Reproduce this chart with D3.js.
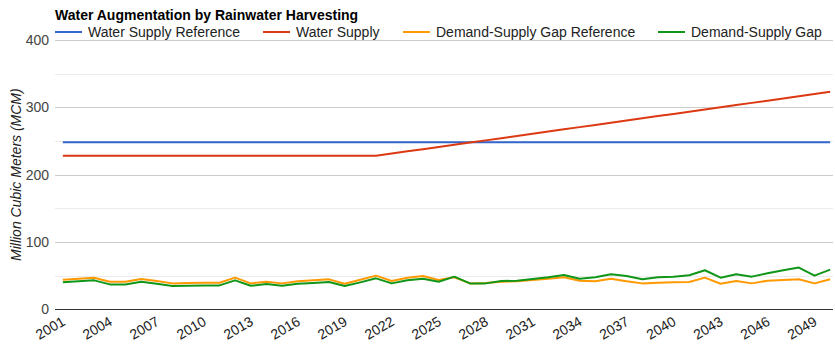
<!DOCTYPE html>
<html>
<head>
<meta charset="utf-8">
<script src="https://cdn.jsdelivr.net/npm/d3@7"></script>
<style>
  html, body { margin: 0; padding: 0; background: #fff; }
  svg { display: block; font-family: Arial, "Liberation Sans", sans-serif; }
</style>
</head>
<body>
<svg id="chart" width="835" height="355"></svg>
<script>
const years = [2001,2002,2003,2004,2005,2006,2007,2008,2009,2010,
  2011,2012,2013,2014,2015,2016,2017,2018,2019,2020,
  2021,2022,2023,2024,2025,2026,2027,2028,2029,2030,
  2031,2032,2033,2034,2035,2036,2037,2038,2039,2040,
  2041,2042,2043,2044,2045,2046,2047,2048,2049,2050];

const waterSupplyReference = [248,248,248,248,248,248,248,248,248,248,
  248,248,248,248,248,248,248,248,248,248,
  248,248,248,248,248,248,248,248,248,248,
  248,248,248,248,248,248,248,248,248,248,
  248,248,248,248,248,248,248,248,248,248];

const waterSupply = [228,228,228,228,228,228,228,228,228,228,
  228,228,228,228,228,228,228,228,228,228,
  228,231.3,234.6,237.8,241.1,244.4,247.7,250.9,254.2,257.5,
  260.8,264,267.3,270.6,273.9,277.1,280.4,283.7,287,290.2,
  293.5,296.8,300.1,303.3,306.6,309.9,313.2,316.4,319.7,323];

const gapReference = [44,45.5,47,41,41,45,42,38.5,39,39.5,
  39.5,47,38.5,41,38.5,41.5,43,44.5,38,44,
  50,42,47,49.5,43.5,47.5,38.5,39,41,41.5,
  43.5,45.5,47.5,42.5,41.5,45.5,41.5,38.5,39.5,40,
  40.5,47,38,42,38.5,42.5,43.5,44.5,38.5,44.5];

const gap = [40,41.5,43,37,37,41,38,34.5,35,35.5,
  35.5,43,35,37.5,35,38,39,40.5,34.5,40,
  46,38.5,43,45.5,41,48.5,38.5,38.5,42,42.5,
  45,47.5,51,45.5,47.5,52,49.5,44.5,47.5,48.5,
  50.5,58,47,52,48.5,53.5,58,62,50,59];

const yTicks = [0,100,200,300,400];
const yMinor = [50,150,250,350];
const xTickYears = [2001,2004,2007,2010,2013,2016,2019,2022,2025,2028,2031,2034,2037,2040,2043,2046,2049];

const seriesNames = ["Water Supply Reference","Water Supply","Demand-Supply Gap Reference","Demand-Supply Gap"];
const seriesColors = ["#3366cc","#dc3912","#ff9900","#109618"];
const seriesData = [waterSupplyReference, waterSupply, gapReference, gap];

(function () {
const svg = d3.select("#chart");
const pLeft = 55, pRight = 838, pTop = 40, pBottom = 309.3, gridRight = 833;
const FS = 14;

const x = d3.scaleBand().domain(years).range([pLeft, pRight]);
const xc = d => x(d) + x.bandwidth()/2;
const y = d3.scaleLinear().domain([0,400]).range([pBottom, pTop]);

// title
svg.append("text").attr("x", 55).attr("y", 20)
  .attr("font-size", FS).attr("font-weight", "bold").attr("fill", "#000")
  .text("Water Augmentation by Rainwater Harvesting");

// minor gridlines
svg.append("g").selectAll("line").data(yMinor).join("line")
  .attr("x1", pLeft).attr("x2", gridRight)
  .attr("y1", d => Math.round(y(d)) + 0.5).attr("y2", d => Math.round(y(d)) + 0.5)
  .attr("stroke", "#ebebeb").attr("stroke-width", 1);

// major gridlines
svg.append("g").selectAll("line").data(yTicks.filter(d => d > 0)).join("line")
  .attr("x1", pLeft).attr("x2", gridRight)
  .attr("y1", d => Math.round(y(d)) + 0.5).attr("y2", d => Math.round(y(d)) + 0.5)
  .attr("stroke", "#cccccc").attr("stroke-width", 1);

// y axis labels
const yAxis = svg.append("g").attr("transform", `translate(${pLeft},0)`)
  .call(d3.axisLeft(y).tickValues(yTicks).tickSize(0).tickPadding(6));
yAxis.select(".domain").remove();
yAxis.selectAll("text").attr("font-size", FS).attr("fill", "#444")
  .attr("font-family", "Arial, 'Liberation Sans', sans-serif");

// y axis title
svg.append("text")
  .attr("transform", `translate(21,${(pTop+pBottom)/2}) rotate(-90)`)
  .attr("text-anchor", "middle").attr("font-size", FS).attr("font-style", "italic")
  .attr("fill", "#222").text("Million Cubic Meters (MCM)");

// lines
const line = d3.line().x((d,i) => xc(years[i])).y(d => y(d));
seriesData.forEach((s, k) => {
  svg.append("path").datum(s).attr("d", line)
    .attr("fill", "none").attr("stroke", seriesColors[k]).attr("stroke-width", 2)
    .attr("stroke-linejoin", "round");
});

// baseline
svg.append("line").attr("x1", pLeft).attr("x2", gridRight)
  .attr("y1", Math.round(y(0)) + 0.5).attr("y2", Math.round(y(0)) + 0.5)
  .attr("stroke", "#333").attr("stroke-width", 1);

// x labels
const xAxis = svg.append("g").attr("transform", `translate(0,${pBottom})`)
  .call(d3.axisBottom(d3.scalePoint().domain(years).range([xc(2001), xc(2050)]))
    .tickValues(xTickYears).tickSize(0).tickPadding(0));
xAxis.select(".domain").remove();
xAxis.selectAll("text")
  .attr("font-size", FS).attr("fill", "#222")
  .attr("font-family", "Arial, 'Liberation Sans', sans-serif")
  .attr("text-anchor", "end").attr("dy", null).attr("y", null)
  .attr("transform", "translate(3,15) rotate(-30)");

// legend
const legendX = [55, 263, 403, 658];
const lg = svg.append("g");
seriesNames.forEach((n, k) => {
  lg.append("line").attr("x1", legendX[k]).attr("x2", legendX[k] + 27)
    .attr("y1", 32).attr("y2", 32).attr("stroke", seriesColors[k]).attr("stroke-width", 2);
  lg.append("text").attr("x", legendX[k] + 33).attr("y", 37)
    .attr("font-size", FS).attr("fill", "#222").text(n);
});
})();
</script>
</body>
</html>
